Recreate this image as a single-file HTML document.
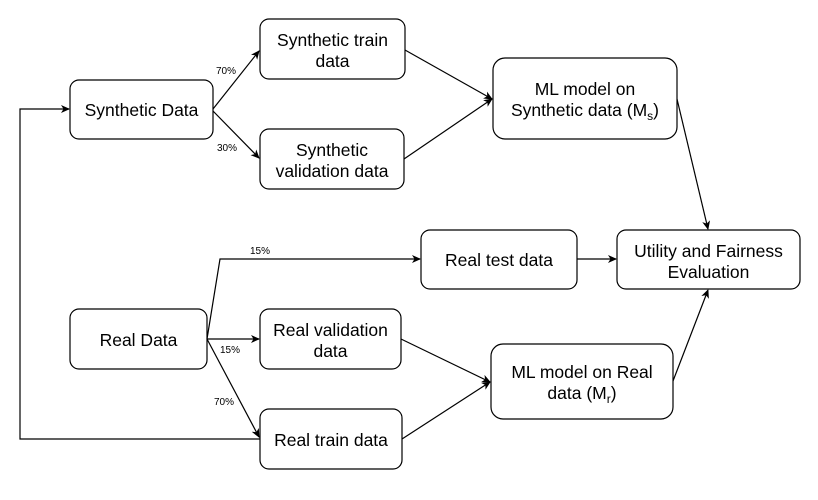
<!DOCTYPE html>
<html><head><style>
body{margin:0;background:#fff;}
svg{display:block;font-family:"Liberation Sans",Helvetica,Arial,sans-serif;}
.b{fill:#fff;stroke:#000;stroke-width:1.2;}
.l{stroke:#000;stroke-width:1.2;fill:none;}
.t{font-size:17.5px;text-anchor:middle;fill:#000;}
.s{font-size:10px;fill:#000;}
</style></head><body>
<svg width="818" height="500" viewBox="0 0 818 500">
<defs><marker id="a" markerWidth="10" markerHeight="10" refX="8" refY="4" orient="auto" markerUnits="userSpaceOnUse"><path d="M0,0 L9,4 L0,8 L2.5,4 z" fill="#000"/></marker></defs>
<rect class="b" x="70" y="80" width="143" height="59" rx="9"/>
<text class="t" x="141.5" y="116">Synthetic Data</text>
<rect class="b" x="260" y="19" width="145" height="60" rx="9"/>
<text class="t" x="332.5" y="46">Synthetic train</text><text class="t" x="332.5" y="67">data</text>
<rect class="b" x="260" y="129" width="144" height="60" rx="9"/>
<text class="t" x="332" y="156">Synthetic</text><text class="t" x="332" y="177">validation data</text>
<rect class="b" x="493" y="58" width="184" height="81" rx="12"/>
<text class="t" x="585" y="95">ML model on</text><text class="t" x="585" y="116">Synthetic data (M<tspan font-size="12" dy="4">s</tspan><tspan dy="-4">)</tspan></text>
<rect class="b" x="421" y="230" width="156" height="59" rx="9"/>
<text class="t" x="499" y="266">Real test data</text>
<rect class="b" x="617" y="230" width="183" height="59" rx="9"/>
<text class="t" x="708.5" y="257">Utility and Fairness</text><text class="t" x="708.5" y="278">Evaluation</text>
<rect class="b" x="491" y="344" width="182" height="75" rx="12"/>
<text class="t" x="582" y="378">ML model on Real</text><text class="t" x="582" y="399">data (M<tspan font-size="12" dy="4">r</tspan><tspan dy="-4">)</tspan></text>
<rect class="b" x="70" y="309" width="137" height="60" rx="9"/>
<text class="t" x="138.5" y="346">Real Data</text>
<rect class="b" x="260" y="309" width="141" height="60" rx="9"/>
<text class="t" x="330.5" y="336">Real validation</text><text class="t" x="330.5" y="357">data</text>
<rect class="b" x="260" y="409" width="142" height="60" rx="9"/>
<text class="t" x="331" y="446">Real train data</text>

<path class="l" d="M213,109 L259,51" marker-end="url(#a)"/>
<path class="l" d="M213,111 L259,158" marker-end="url(#a)"/>
<text class="s" x="216" y="74">70%</text>
<text class="s" x="217" y="151">30%</text>
<path class="l" d="M260,439 L20,439 L20,109 L69,109" marker-end="url(#a)"/>
<path class="l" d="M207,339 L220,259 L420,259" marker-end="url(#a)"/>
<text class="s" x="250" y="254">15%</text>
<path class="l" d="M207,339 L259,339" marker-end="url(#a)"/>
<text class="s" x="220" y="353">15%</text>
<path class="l" d="M207,339 L259,437" marker-end="url(#a)"/>
<text class="s" x="214" y="405">70%</text>
<path class="l" d="M405,50 L492,99" marker-end="url(#a)"/>
<path class="l" d="M404,159 L492,99" marker-end="url(#a)"/>
<path class="l" d="M677,99 L708,229" marker-end="url(#a)"/>
<path class="l" d="M577,259 L616,259" marker-end="url(#a)"/>
<path class="l" d="M401,339 L490,382" marker-end="url(#a)"/>
<path class="l" d="M402,439 L490,382" marker-end="url(#a)"/>
<path class="l" d="M673,381 L708,290" marker-end="url(#a)"/>
</svg>
</body></html>
